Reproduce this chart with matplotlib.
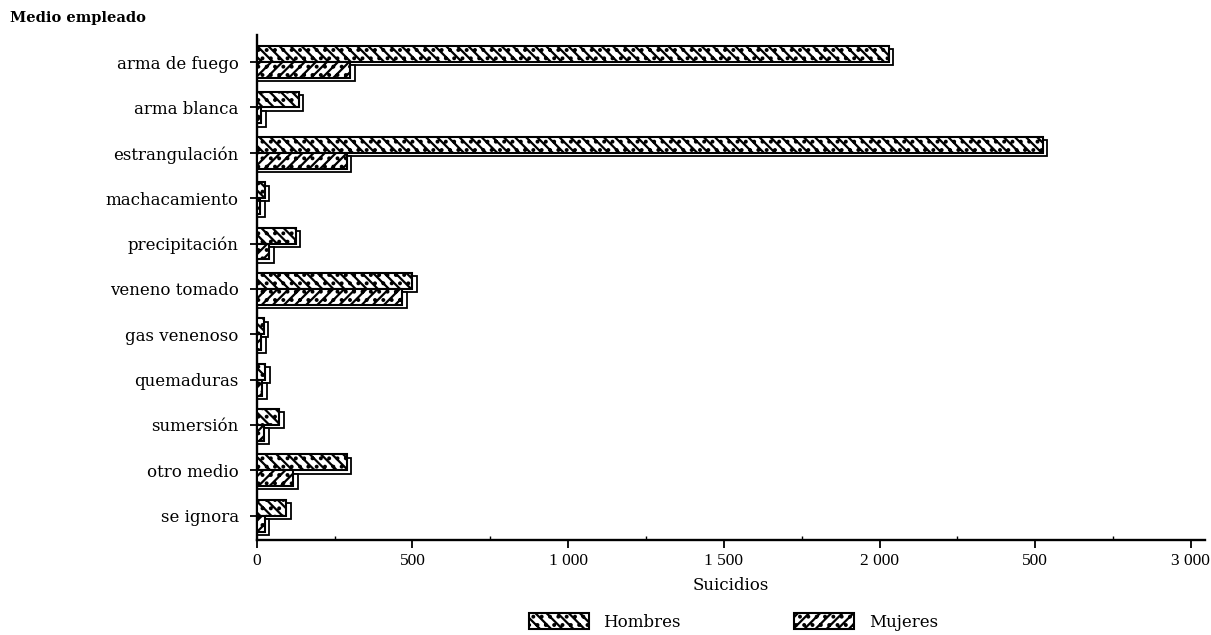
import matplotlib.pyplot as plt
from matplotlib.patches import Rectangle
from matplotlib.ticker import FixedLocator

# Datos
medios = ["arma de fuego", "arma blanca", "estrangulación", "machacamiento",
          "precipitación", "veneno tomado", "gas venenoso", "quemaduras",
          "sumersión", "otro medio", "se ignora"]
hombres = [2030, 135, 2525, 25, 125, 500, 22, 28, 72, 290, 95]
mujeres = [300, 15, 290, 12, 40, 468, 15, 18, 24, 118, 25]
ticks_x = [0, 500, 1000, 1500, 2000, 2500, 3000]
etiquetas_x = ["0", "500", "1 000", "1 500", "2 000", "500", "3 000"]

SERIF = ["DejaVu Serif"]
NUM = ["Liberation Serif", "DejaVu Serif"]
ALTO = 0.35
DX, DY = 14, 0.07   # desplazamiento del "fondo" 3D

plt.rcParams["hatch.linewidth"] = 1.6


def barras(ax, valores, offset, hatch):
    for i, v in enumerate(valores):
        y = i + offset
        # sombra / profundidad
        ax.add_patch(Rectangle((0, y - ALTO / 2 + DY), v + DX, ALTO,
                               facecolor="white", edgecolor="black",
                               linewidth=1.3, zorder=2))
        ax.barh(y, v, height=ALTO, left=0, color="white", edgecolor="black",
                hatch=hatch, linewidth=1.5, zorder=3)


fig = plt.figure(figsize=(12.11, 6.35), dpi=100)
ax = fig.add_axes([0.212, 0.15, 0.783, 0.795])

barras(ax, hombres, -ALTO / 2, "\\\\\\..")
barras(ax, mujeres, ALTO / 2, "///..")

ax.set_xlim(0, 3045)
ax.set_ylim(10.53, -0.6)

ax.set_yticks(range(len(medios)))
ax.set_yticklabels(medios, fontsize=12, family=SERIF)
ax.tick_params(axis="y", direction="inout", length=10, width=1.3, pad=8)

ax.set_xticks(ticks_x)
ax.set_xticklabels(etiquetas_x, fontsize=12.5, family=NUM)
ax.xaxis.set_minor_locator(FixedLocator([250, 750, 1250, 1750, 2250, 2750]))
ax.tick_params(axis="x", which="major", direction="out", length=6, width=1.3)
ax.tick_params(axis="x", which="minor", direction="in", length=3, width=1)

for lado in ["top", "right"]:
    ax.spines[lado].set_visible(False)
ax.spines["left"].set_linewidth(1.7)
ax.spines["bottom"].set_linewidth(1.7)

ax.set_xlabel("Suicidios", fontsize=12, family=SERIF, labelpad=6)
fig.text(0.008, 0.972, "Medio empleado", fontsize=10.5, family=SERIF,
         fontweight="bold", ha="left", va="center")

# leyenda manual
h1 = Rectangle((0, 0), 1, 1, facecolor="white", edgecolor="black",
               hatch="\\\\\\..", linewidth=1.5)
h2 = Rectangle((0, 0), 1, 1, facecolor="white", edgecolor="black",
               hatch="///..", linewidth=1.5)
fig.legend([h1, h2], ["Hombres", "Mujeres"], loc="center",
           bbox_to_anchor=(0.6057, 0.02), ncol=2, frameon=False,
           prop={"family": SERIF, "size": 12}, handlelength=3.6,
           handleheight=1.1, columnspacing=6.8, handletextpad=0.9)

fig.savefig("out.png", dpi=100)
